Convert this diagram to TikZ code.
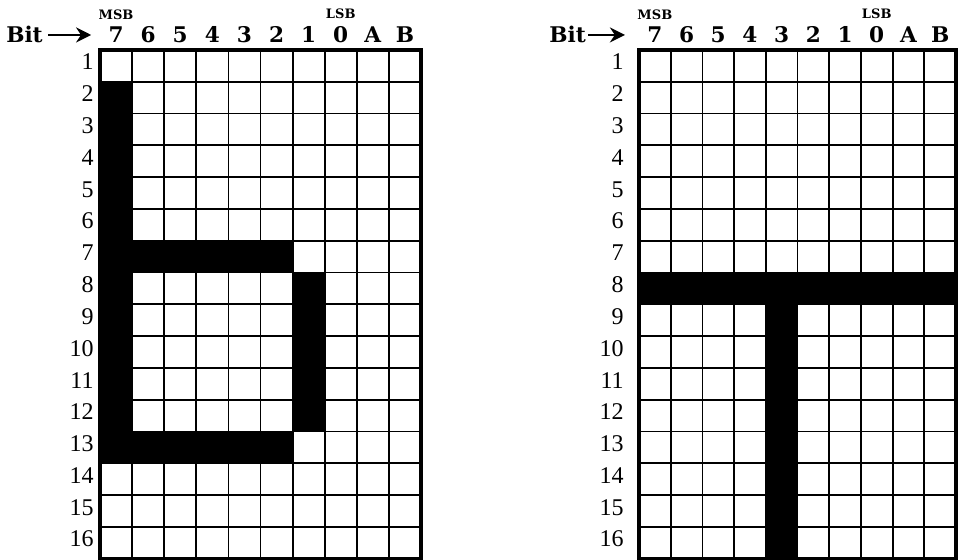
\documentclass[tikz,border=0pt]{standalone}
\usepackage{fontspec}
\setmainfont{Liberation Serif}
\newfontfamily\hdfont{DejaVu Serif}
\usetikzlibrary{arrows.meta,positioning}
\tikzset{
  cellline/.style={line width=0.9pt},
  frame/.style   ={line width=1.7pt},
  ink/.style     ={fill=black},
  bitlbl/.style  ={font=\hdfont\bfseries\fontsize{10.8}{12}\selectfont,inner sep=1pt,anchor=base},
  sblbl/.style   ={font=\hdfont\bfseries\fontsize{6.5}{7}\selectfont,inner sep=1pt},
  rowlbl/.style  ={font=\fontsize{12}{14}\selectfont,inner sep=0pt,anchor=east},
  bitarrow/.style={-{Stealth[length=7.5pt,width=7.5pt]},line width=1.3pt},
}
\begin{document}
\begin{tikzpicture}[x=0.5pt,y=-0.5pt]
  \useasboundingbox (0,0) rectangle (959,560);
  % left matrix: letter b
  \begin{scope}[xshift=50pt,yshift=-25pt,x=16.05pt,y=-15.9pt]
    \fill[ink] (0,1) rectangle (1,13);
    \fill[ink] (1,6) rectangle (6,7);
    \fill[ink] (1,12) rectangle (6,13);
    \fill[ink] (6,7) rectangle (7,12);
    \foreach \c in {1,...,9} \draw[cellline] (\c,0) -- (\c,16);
    \foreach \r in {1,...,15} \draw[cellline] (0,\r) -- (10,\r);
    \draw[frame] (0,0) rectangle (10,16);
    \foreach \b [count=\i from 0] in {7,6,5,4,3,2,1,0,A,B}
      \node[bitlbl] (lb\b) at (\i+0.5,-0.22) {\b};
    \foreach \r in {1,...,16}
      \node[rowlbl] (lr\r) at (-0.19,\r-0.62) {\r};
    \node[sblbl,above=1.5pt of lb7] (lmsb) {MSB};
    \node[sblbl,above=1.5pt of lb0] (llsb) {LSB};
    \node[bitlbl,anchor=base east] (lbit) at (-1.71,-0.22) {Bit};
    \draw[bitarrow,shorten <=1.5pt,shorten >=7.5pt] (lbit.east) -- (lbit.east -| lb7.west);
  \end{scope}
  % right matrix: letter T
  \begin{scope}[xshift=319.5pt,yshift=-25pt,x=15.85pt,y=-15.9pt]
    \fill[ink] (0,7) rectangle (10,8);
    \fill[ink] (4,8) rectangle (5,16);
    \foreach \c in {1,...,9} \draw[cellline] (\c,0) -- (\c,16);
    \foreach \r in {1,...,15} \draw[cellline] (0,\r) -- (10,\r);
    \draw[frame] (0,0) rectangle (10,16);
    \foreach \b [count=\i from 0] in {7,6,5,4,3,2,1,0,A,B}
      \node[bitlbl] (rb\b) at (\i+0.5,-0.22) {\b};
    \foreach \r in {1,...,16}
      \node[rowlbl] (rr\r) at (-0.47,\r-0.62) {\r};
    \node[sblbl,above=1.5pt of rb7] (rmsb) {MSB};
    \node[sblbl,above=1.5pt of rb0] (rlsb) {LSB};
    \node[bitlbl,anchor=base east] (rbit) at (-1.60,-0.22) {Bit};
    \draw[bitarrow,shorten >=10pt] (rbit.east) -- (rbit.east -| rb7.west);
  \end{scope}
\end{tikzpicture}
\end{document}
